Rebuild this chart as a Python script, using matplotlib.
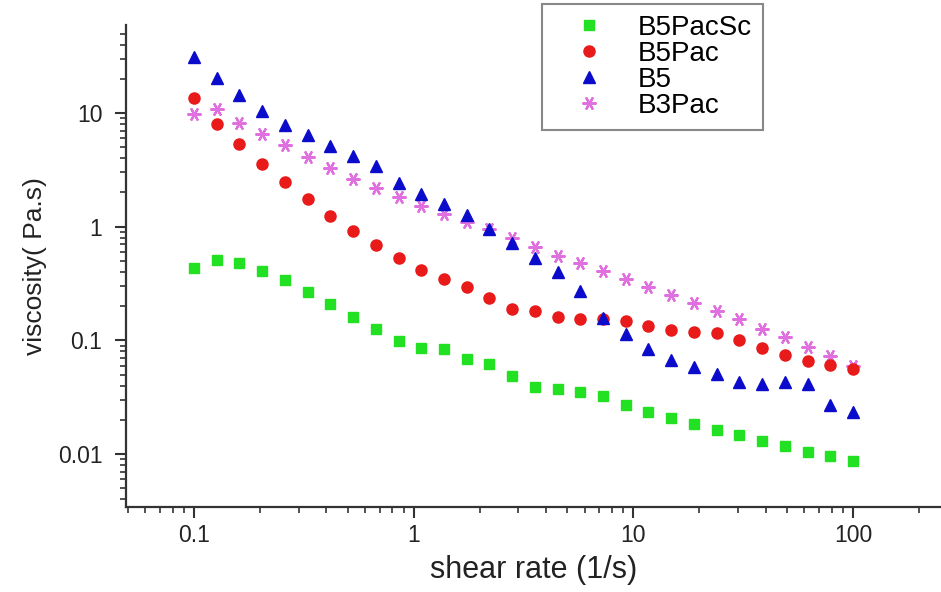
"""
Log-log viscosity vs shear rate for four samples.

Output: out.png
"""

import matplotlib

matplotlib.use("Agg")
import matplotlib.pyplot as plt
import numpy as np
from matplotlib.ticker import FixedLocator, LogLocator, NullFormatter

plt.rcParams["font.family"] = ["Liberation Sans", "DejaVu Sans"]

# shear rate (1/s), 30 log-spaced points between 0.1 and 100
shear_rate = [
    0.1, 0.1269, 0.1610, 0.2043, 0.2593, 0.3290, 0.4175, 0.5298, 0.6723, 0.8532,
    1.083, 1.374, 1.743, 2.212, 2.807, 3.562, 4.520, 5.736, 7.279, 9.237,
    11.72, 14.87, 18.87, 23.95, 30.39, 38.57, 48.94, 62.10, 78.80, 100.0,
]

visc_b5pacsc = [
    0.430, 0.509, 0.476, 0.410, 0.340, 0.268, 0.207, 0.161, 0.125, 0.0993,
    0.0851, 0.0839, 0.0688, 0.0623, 0.0481, 0.0387, 0.0371, 0.0349, 0.0322, 0.0269,
    0.0235, 0.0209, 0.0184, 0.0163, 0.0146, 0.0131, 0.0118, 0.0105, 0.0096, 0.0087,
]

visc_b5pac = [
    13.6, 8.05, 5.34, 3.58, 2.47, 1.74, 1.24, 0.922, 0.686, 0.530,
    0.416, 0.346, 0.296, 0.234, 0.188, 0.181, 0.161, 0.153, 0.153, 0.147,
    0.133, 0.123, 0.118, 0.115, 0.0997, 0.0852, 0.0743, 0.0662, 0.0601, 0.0556,
]

visc_b5 = [
    30.9, 20.4, 14.3, 10.5, 7.89, 6.37, 5.13, 4.21, 3.42, 2.44,
    1.93, 1.58, 1.27, 0.948, 0.714, 0.527, 0.402, 0.273, 0.156, 0.114,
    0.0839, 0.0678, 0.0586, 0.0503, 0.0426, 0.0413, 0.0426, 0.0417, 0.0270, 0.0234,
]

visc_b3pac = [
    9.74, 10.8, 8.22, 6.54, 5.23, 4.13, 3.28, 2.64, 2.20, 1.84,
    1.52, 1.285, 1.093, 0.954, 0.795, 0.656, 0.555, 0.476, 0.409, 0.345,
    0.295, 0.251, 0.215, 0.182, 0.153, 0.126, 0.106, 0.0874, 0.0725, 0.0597,
]

x_ticks = [0.1, 1, 10, 100]
x_tick_labels = ["0.1", "1", "10", "100"]
y_ticks = [0.01, 0.1, 1, 10]
y_tick_labels = ["0.01", "0.1", "1", "10"]

W, H = 941, 592
fig = plt.figure(figsize=(W / 100, H / 100), dpi=100)
ax = fig.add_axes([126 / W, 1 - 507 / H, (W - 126) / W, (507 - 25) / H])

# draw order: pink at the back, then red, then blue on top
h_pink, = ax.plot(shear_rate, visc_b3pac, ls="none", marker=(6, 2, 90),
                  ms=10, mew=1.6, color="#e070e0", zorder=2)
h_red, = ax.plot(shear_rate, visc_b5pac, ls="none", marker="o",
                 ms=8, color="#e81a1a", mec="#e81a1a", zorder=3)
h_blue, = ax.plot(shear_rate, visc_b5, ls="none", marker="^",
                  ms=9, color="#0b0bcc", mec="#0b0bcc", zorder=4)
h_green, = ax.plot(shear_rate, visc_b5pacsc, ls="none", marker="s",
                   ms=7.5, color="#22e022", mec="#22e022", zorder=3)

ax.set_xscale("log")
ax.set_yscale("log")
ax.set_xlim(0.049, 251.6)
ax.set_ylim(0.00342, 59.4)

ax.xaxis.set_major_locator(FixedLocator(x_ticks))
ax.set_xticklabels(x_tick_labels)
ax.yaxis.set_major_locator(FixedLocator(y_ticks))
ax.set_yticklabels(y_tick_labels)
for axis in (ax.xaxis, ax.yaxis):
    axis.set_minor_locator(LogLocator(base=10, subs=np.arange(2, 10), numticks=20))
    axis.set_minor_formatter(NullFormatter())

for side in ("top", "right"):
    ax.spines[side].set_visible(False)
for side in ("left", "bottom"):
    ax.spines[side].set_linewidth(1.6)
    ax.spines[side].set_color("#333333")

ax.tick_params(which="major", direction="out", length=8, width=1.5,
               color="#333333", labelsize=16.5, labelcolor="#222222")
ax.tick_params(axis="x", which="major", pad=4)
ax.tick_params(axis="y", which="major", pad=9)
ax.tick_params(which="minor", direction="out", length=4.5, width=1.2, color="#333333")

ax.set_xlabel("shear rate (1/s)", fontsize=22, color="#222222", labelpad=6)
ax.set_ylabel("viscosity( Pa.s)", fontsize=19, color="#222222", labelpad=8)

leg = ax.legend([h_green, h_red, h_blue, h_pink],
                ["B5PacSc", "B5Pac", "B5", "B3Pac"],
                loc="upper left", bbox_to_anchor=(542 / W, 1 - 4 / H),
                bbox_transform=fig.transFigure, borderaxespad=0,
                fontsize=20, numpoints=1, handlelength=2.6, handletextpad=0.45,
                labelspacing=0.0, borderpad=0.4, fancybox=False,
                framealpha=1, edgecolor="#888888")
leg.get_frame().set_linewidth(1.5)

fig.savefig("out.png", dpi=100)
